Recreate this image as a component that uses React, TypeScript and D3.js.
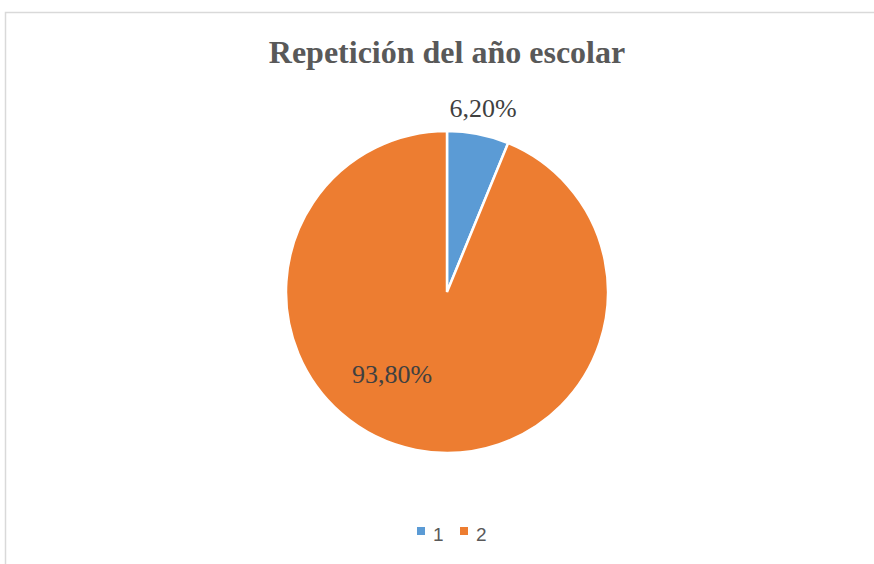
import * as d3 from "d3";
import * as React from "react";

const categories = ["1", "2"];
const values = [6.2, 93.8];
const labels = ["6,20%", "93,80%"];
const colors = ["#5b9bd5", "#ed7d31"];

const W = 874;
const H = 564;

export default function App() {
  const cx = 447,
    cy = 292,
    r = 161;

  const pie = d3
    .pie<number>()
    .sort(null)
    .value((d) => d);
  const arcs = pie(values);
  const arc = d3.arc<d3.PieArcDatum<number>>().innerRadius(0).outerRadius(r);

  // label positions, roughly like Excel's best fit
  const labelPos = [
    { x: 483, y: 117 },
    { x: 392, y: 383 },
  ];

  return (
    <svg
      width={W}
      height={H}
      style={{ position: "absolute", left: 0, top: 0, background: "#fff" }}
    >
      <rect x={5.5} y={12.5} width={W} height={H} fill="#fff" stroke="#d9d9d9" strokeWidth={1.5} />
      <text
        x={cx}
        y={63}
        textAnchor="middle"
        fontFamily="Liberation Serif, Times New Roman, serif"
        fontWeight="bold"
        fontSize={32}
        fill="#595959"
      >
        Repetición del año escolar
      </text>
      <g transform={`translate(${cx},${cy})`}>
        {arcs.map((a, i) => (
          <path key={i} d={arc(a) || ""} fill={colors[i]} stroke="#fff" strokeWidth={2.5} />
        ))}
      </g>
      {labels.map((l, i) => (
        <text
          key={i}
          x={labelPos[i].x}
          y={labelPos[i].y}
          textAnchor="middle"
          fontFamily="Liberation Serif, Times New Roman, serif"
          fontSize={26}
          fill="#404040"
        >
          {l}
        </text>
      ))}
      {categories.map((c, i) => (
        <g key={c} transform={`translate(${417 + i * 43},0)`}>
          <rect x={0} y={527} width={8} height={8} fill={colors[i]} />
          <text
            x={16}
            y={541}
            fontFamily="Liberation Sans, Arial, sans-serif"
            fontSize={19}
            fill="#595959"
          >
            {c}
          </text>
        </g>
      ))}
    </svg>
  );
}
